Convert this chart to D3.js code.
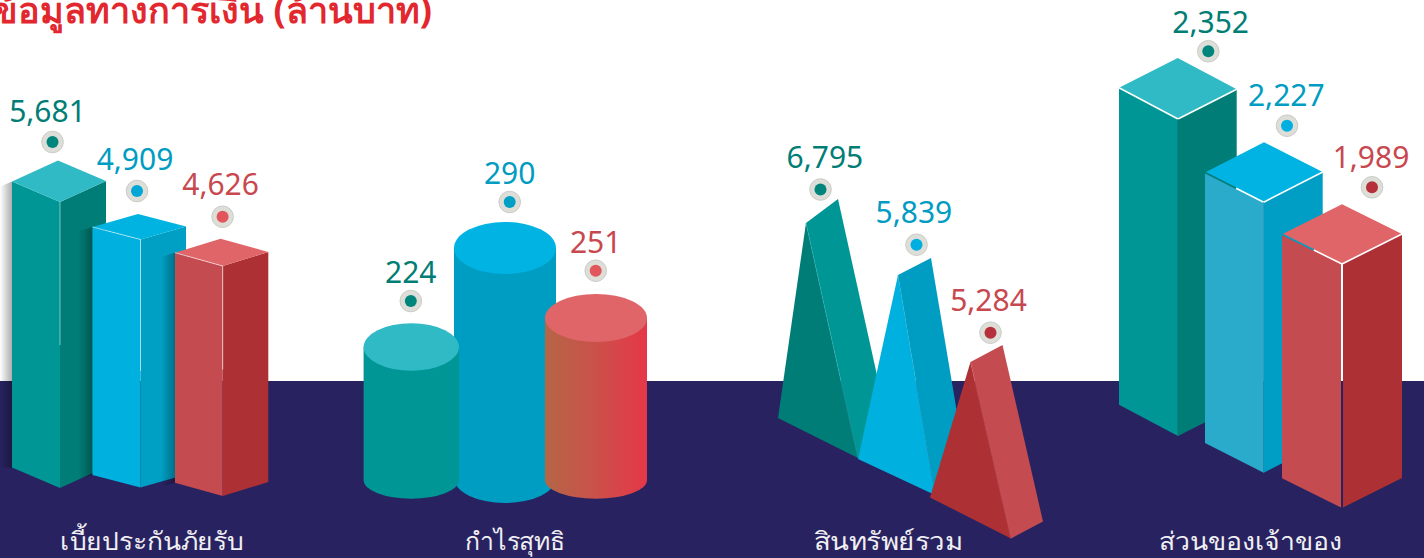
<!DOCTYPE html>
<html lang="th">
    <head>
        <meta charset="utf-8">
        <title>ข้อมูลทางการเงิน</title>
        <script src="https://d3js.org/d3.v7.min.js"></script>
        <style>
            html, body { margin: 0; padding: 0; background: #fff; overflow: hidden; }
            text { font-family: "Noto Sans", "Open Sans", sans-serif; }
        </style>
    </head>
    <body>
        <script>
            const chartTitle = "ข้อมูลทางการเงิน (ล้านบาท)";
            const categories = ["เบี้ยประกันภัยรับ", "กำไรสุทธิ", "สินทรัพย์รวม", "ส่วนของเจ้าของ"];
            const seriesKeys = ["teal", "blue", "red"];
            const premiumValues = [5681, 4909, 4626];
            const profitValues = [224, 290, 251];
            const assetValues = [6795, 5839, 5284];
            const equityValues = [2352, 2227, 1989];

            const width = 1424;
            const height = 558;
            const floorY = 381;
            const navy = "#282360";
            const format = d3.format(",");
            const textColor = d3.scaleOrdinal(seriesKeys, ["#007d74", "#009cc2", "#c8484f"]);

            const svg = d3.select("body").append("svg")
                .attr("width", width)
                .attr("height", height)
                .style("display", "block");

            const defs = svg.append("defs");

            function hGradient(id, stops) {
                const g = defs.append("linearGradient").attr("id", id)
                    .attr("x1", 0).attr("x2", 1).attr("y1", 0).attr("y2", 0);
                stops.forEach(s => g.append("stop")
                    .attr("offset", s[0]).attr("stop-color", s[1]).attr("stop-opacity", s[2]));
            }
            hGradient("sideShadow", [[0, "#000", 0], [1, "#000", 0.3]]);
            hGradient("leftShadow", [[0, "#000", 0], [1, "#000", 0.32]]);
            hGradient("redBody", [[0, "#b56546", 1], [0.45, "#c8534a", 1], [1, "#e63748", 1]]);

            // floor band
            svg.append("rect")
                .attr("x", 0).attr("y", floorY)
                .attr("width", width).attr("height", height - floorY)
                .attr("fill", navy);

            svg.append("text")
                .attr("x", 432).attr("y", 23)
                .attr("text-anchor", "end")
                .attr("font-size", 36)
                .attr("font-weight", 700)
                .attr("fill", "#e2272e")
                .text(chartTitle);

            // a height scale through the three values of one group
            function heightScale(values, sizes) {
                const order = d3.range(values.length).sort((a, b) => values[a] - values[b]);
                return d3.scaleLinear()
                    .domain(order.map(i => values[i]))
                    .range(order.map(i => sizes[i]));
            }

            function byKey(list) {
                return d3.scaleOrdinal(seriesKeys, list);
            }

            const line = d3.line();
            function poly(points) {
                return line(points) + "Z";
            }

            function drawMarker(g, d, cx, cy, inner, labelX, labelY) {
                g.append("circle").attr("cx", cx).attr("cy", cy).attr("r", 10.8)
                    .attr("fill", "#deded9").attr("stroke", "#cbcbc7").attr("stroke-width", 1);
                g.append("circle").attr("cx", cx).attr("cy", cy).attr("r", 6)
                    .attr("fill", inner);
                g.append("text")
                    .attr("x", labelX).attr("y", labelY)
                    .attr("text-anchor", "middle")
                    .attr("font-size", 30)
                    .attr("fill", textColor(d.key))
                    .text(format(d.value));
            }

            function toRows(values) {
                return seriesKeys.map((key, i) => ({key: key, value: values[i]}));
            }

            function boxGeometry(d, opt) {
                const x = opt.x(d.key), y = opt.base(d.key), h = opt.h(d.value);
                const dxL = opt.dxL(d.key), dxR = opt.dxR(d.key), dyL = opt.dyL(d.key), dyR = opt.dyR(d.key);
                return {
                    frontBottom: [x, y],
                    frontTop: [x, y - h],
                    leftBottom: [x - dxL, y - dyL],
                    leftTop: [x - dxL, y - h - dyL],
                    rightBottom: [x + dxR, y - dyR],
                    rightTop: [x + dxR, y - h - dyR],
                    backTop: [x - dxL + dxR, y - h - dyL - dyR]
                };
            }

            function drawBoxes(values, opt) {
                const rows = toRows(values);
                const shapes = rows.map(d => boxGeometry(d, opt));
                const g = svg.append("g");

                rows.forEach((d, i) => {
                    const b = shapes[i];
                    const faces = opt.faces(d.key);
                    const bar = g.append("g");

                    if (opt.castShadow && i === 0) {
                        bar.append("path")
                            .attr("d", poly([[b.leftTop[0] - 12, b.leftTop[1] + 5], b.leftTop, b.leftBottom, [b.leftBottom[0] - 12, b.leftBottom[1]]]))
                            .attr("fill", "url(#leftShadow)");
                    }
                    bar.append("path")
                        .attr("d", poly([b.leftTop, b.frontTop, b.frontBottom, b.leftBottom]))
                        .attr("fill", faces[0]);
                    bar.append("path")
                        .attr("d", poly([b.frontTop, b.rightTop, b.rightBottom, b.frontBottom]))
                        .attr("fill", faces[1]);
                    bar.append("path")
                        .attr("d", poly([b.leftTop, b.frontTop, b.rightTop, b.backTop]))
                        .attr("fill", faces[2]);

                    // soft shadow the next bar throws on this one
                    if (opt.castShadow && i < rows.length - 1) {
                        const n = shapes[i + 1];
                        bar.append("path")
                            .attr("d", poly([[n.leftTop[0] - 14, n.leftTop[1] + 4], n.leftTop, n.leftBottom, [n.leftBottom[0] - 14, n.leftBottom[1] + 4]]))
                            .attr("fill", "url(#sideShadow)");
                    }

                    opt.edges(bar, b, i, shapes);
                });

                rows.forEach((d, i) => {
                    const b = shapes[i];
                    const cx = b.backTop[0] + opt.markDx(d.key);
                    const cy = b.backTop[1] - opt.markDy(d.key);
                    drawMarker(g, d, cx, cy, opt.inner(d.key), cx + opt.labelDx(d.key), cy - opt.labelGap(d.key));
                });
            }

            function edge(g, a, b, color, w, alpha) {
                g.append("line")
                    .attr("x1", a[0]).attr("y1", a[1])
                    .attr("x2", b[0]).attr("y2", b[1])
                    .attr("stroke", color).attr("stroke-width", w).attr("stroke-opacity", alpha);
            }

            function along(a, b, t) {
                return [a[0] + (b[0] - a[0]) * t, a[1] + (b[1] - a[1]) * t];
            }

            // premium: tall boxes with faint highlights
            const premiumFade = byKey([0.5, 0.55, 0.6]);
            const premiumStop = byKey([0.5, 0.53, 0.45]);
            drawBoxes(premiumValues, {
                x: byKey([60, 140.5, 222.7]),
                base: byKey([488, 487.5, 496]),
                h: heightScale(premiumValues, [286, 248, 230]),
                dxL: byKey([48, 48, 47.7]),
                dxR: byKey([46, 45.5, 45.6]),
                dyL: byKey([20.5, 12.5, 13.3]),
                dyR: byKey([21, 13, 14]),
                faces: byKey([["#009695", "#007d76", "#2fbac6"], ["#00b0df", "#009fc4", "#00b3e0"], ["#c44b4f", "#ad3035", "#df6568"]]),
                inner: byKey(["#00857d", "#00a7d6", "#e0565b"]),
                markDx: byKey([-5.5, -1, 2]),
                markDy: byKey([18.5, 23, 22]),
                labelDx: byKey([-5, -2, -2]),
                labelGap: byKey([20.3, 20.6, 21.3]),
                castShadow: true,
                edges: function(g, b, i) {
                    const key = seriesKeys[i];
                    edge(g, b.frontTop, along(b.frontTop, b.frontBottom, premiumStop(key)), "#fff", 1, premiumFade(key));
                    if (i > 0) edge(g, b.leftTop, b.frontTop, "#fff", 1, premiumFade(key));
                }
            });

            // profit: cylinders, the middle one stands behind its neighbours
            const profitH = heightScale(profitValues, [133, 230, 162]);
            const profitX = byKey([411.3, 505, 596]);
            const profitBase = byKey([480, 478, 480]);
            const profitRx = byKey([47.7, 51, 51]);
            const profitRy = byKey([23.7, 26, 24]);
            const profitBottomRy = byKey([18.7, 25, 18.7]);
            const profitBody = byKey(["#009695", "#009dc3", "url(#redBody)"]);
            const profitTop = byKey(["#2fbac6", "#00b3e2", "#df6568"]);
            const profitMarkDy = byKey([46, 46, 47.3]);
            const profitMarkDx = byKey([-0.5, 4.7, -0.3]);
            const profitInner = byKey(["#00857d", "#00a0c4", "#e0565b"]);
            const profitOrder = ["blue", "teal", "red"];

            const profitG = svg.append("g");
            const profitRows = toRows(profitValues);
            profitRows.slice()
                .sort((a, b) => profitOrder.indexOf(a.key) - profitOrder.indexOf(b.key))
                .forEach(d => {
                    const cx = profitX(d.key), base = profitBase(d.key), rx = profitRx(d.key);
                    const top = base - profitH(d.value);
                    const lower = profitBottomRy(d.key);
                    profitG.append("path")
                        .attr("d", `M${cx - rx},${top}L${cx - rx},${base}A${rx},${lower} 0 0 0 ${cx + rx},${base}L${cx + rx},${top}Z`)
                        .attr("fill", profitBody(d.key));
                    profitG.append("ellipse")
                        .attr("cx", cx).attr("cy", top)
                        .attr("rx", rx).attr("ry", profitRy(d.key))
                        .attr("fill", profitTop(d.key));
                });
            profitRows.forEach(d => {
                const cx = profitX(d.key) + profitMarkDx(d.key);
                const cy = profitBase(d.key) - profitH(d.value) - profitMarkDy(d.key);
                drawMarker(profitG, d, cx, cy, profitInner(d.key), cx, cy - 17.7);
            });

            // assets: leaning wedges, apex height from the scale
            const assetH = heightScale(assetValues, [215, 202, 156]);
            const assetMidX = byKey([818, 896.5, 970.5]);
            const assetMidY = byKey([438, 477, 518]);
            const assetLean = byKey([-12, 1.5, 0]);
            const assetHalf = byKey([[40, 20], [38.5, 18], [40.5, 20.5]]);
            const assetBack = byKey([[32, -24], [33, -17], [32, -17]]);
            const assetFaces = byKey([["#007d76", "#009695"], ["#00b0df", "#009dc3"], ["#ad3035", "#c44b4f"]]);
            const assetCrease = byKey(["#2fbac6", "#2fa7c6", "#df6568"]);
            const assetMarkDx = byKey([-17.5, -14.5, -12]);
            const assetMarkDy = byKey([9.5, 13.3, 12.3]);
            const assetInner = byKey(["#00857d", "#00aee0", "#b5303a"]);
            const assetLabelDx = byKey([4.4, -2.6, -2]);

            const assetG = svg.append("g");
            const assetRows = toRows(assetValues).map(d => {
                const mx = assetMidX(d.key), my = assetMidY(d.key);
                const half = assetHalf(d.key), back = assetBack(d.key);
                const apex = [mx + assetLean(d.key), my - assetH(d.value)];
                return {
                    d: d,
                    apex: apex,
                    apexBack: [apex[0] + back[0], apex[1] + back[1]],
                    left: [mx - half[0], my - half[1]],
                    mid: [mx + half[0], my + half[1]],
                    right: [mx + half[0] + back[0], my + half[1] + back[1]]
                };
            });
            assetRows.forEach(w => {
                const faces = assetFaces(w.d.key);
                assetG.append("path").attr("d", poly([w.apex, w.apexBack, w.right, w.mid])).attr("fill", faces[1]);
                assetG.append("path").attr("d", poly([w.apex, w.mid, w.left])).attr("fill", faces[0]);
                edge(assetG, w.apex, w.mid, assetCrease(w.d.key), 0.8, 0.55);
            });
            assetRows.forEach(w => {
                const key = w.d.key;
                const cx = w.apexBack[0] + assetMarkDx(key);
                const cy = w.apexBack[1] - assetMarkDy(key);
                drawMarker(assetG, w.d, cx, cy, assetInner(key), cx + assetLabelDx(key), cy - 21.7);
            });

            // equity: big boxes with hard white edges
            const equityEdge = [null, "#007d76", "#009dc5"];
            const equityRiser = byKey(["#007768", "#1e8fb2", "#fff"]);
            drawBoxes(equityValues, {
                x: byKey([1178, 1263.7, 1342]),
                base: byKey([436, 472.7, 508]),
                h: heightScale(equityValues, [317, 270.5, 244]),
                dxL: byKey([59, 58.7, 60]),
                dxR: byKey([58.7, 59, 60]),
                dyL: byKey([31.3, 29.7, 29.7]),
                dyR: byKey([29.7, 30.2, 30]),
                faces: byKey([["#009695", "#007d76", "#2fbac6"], ["#2babcb", "#009dc5", "#00b3e2"], ["#c44b4f", "#ad3035", "#df6568"]]),
                inner: byKey(["#00857d", "#00aee0", "#b5303a"]),
                markDx: byKey([30.6, 23, 30]),
                markDy: byKey([6.7, 16.6, 17]),
                labelDx: byKey([2.4, -0.7, -1]),
                labelGap: byKey([18, 19.7, 19]),
                castShadow: false,
                edges: function(g, b, i) {
                    edge(g, b.frontTop, b.rightTop, "#fff", 1.6, 1);
                    if (i === 0) {
                        edge(g, b.leftTop, b.frontTop, "#fff", 1.6, 1);
                    } else {
                        // the left edge is half hidden under the bar behind
                        const cut = along(b.leftTop, b.frontTop, 0.53);
                        edge(g, b.leftTop, cut, equityEdge[i], 1.6, 1);
                        edge(g, cut, b.frontTop, "#fff", 1.6, 1);
                    }
                    const key = seriesKeys[i];
                    if (i === 2) {
                        edge(g, b.frontTop, [b.frontTop[0], floorY], equityRiser(key), 2, 1);
                        edge(g, [b.frontTop[0], floorY], b.frontBottom, navy, 2, 1);
                    } else {
                        edge(g, b.frontTop, b.frontBottom, equityRiser(key), 1, 0.8);
                    }
                }
            });

            // category names under each group, fitted to the widths in the picture
            const categoryX = d3.scaleOrdinal(categories, [152, 515, 888, 1250.5]);
            const categoryWidth = d3.scaleOrdinal(categories, [184, 100, 149, 183]);
            svg.selectAll("text.category")
                .data(categories)
                .enter()
                .append("text")
                .attr("class", "category")
                .attr("x", d => categoryX(d))
                .attr("y", 550)
                .attr("text-anchor", "middle")
                .attr("font-size", 25)
                .attr("textLength", d => categoryWidth(d))
                .attr("lengthAdjust", "spacingAndGlyphs")
                .attr("fill", "#f0eff2")
                .text(d => d);
        </script>
    </body>
</html>
